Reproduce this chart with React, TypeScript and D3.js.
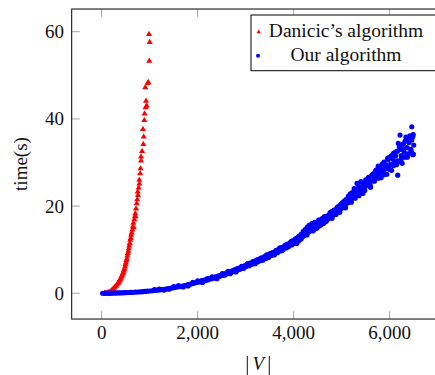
import React from "react";
import * as d3 from "d3";

// Danicic's algorithm: [|V|, time(s)]
const redV = [60, 90, 120, 150, 175, 200, 220, 240, 260, 280, 300, 320, 340, 355, 370, 385, 400, 410, 425, 440, 450, 460, 475, 485, 495, 505, 515, 525, 535, 545, 555, 565, 575, 585, 595, 605, 615, 625, 640, 650, 660, 665, 680, 690, 700, 705, 715, 730, 740, 750, 755, 770, 783, 785, 800, 810, 819, 820, 840, 860, 867, 875, 888, 895, 908, 915, 923, 938, 958, 971, 985, 992, 1000];
const redT = [0.02, 0.05, 0.1, 0.2, 0.35, 0.6, 0.8, 1.0, 1.2, 1.5, 1.7, 2.0, 2.3, 2.6, 2.9, 3.2, 3.5, 3.8, 4.1, 4.5, 4.8, 5.2, 5.6, 6.1, 6.6, 7.0, 7.5, 7.9, 8.6, 9.2, 9.7, 10.3, 10.9, 11.5, 12.2, 12.6, 13.4, 13.9, 14.6, 15.3, 16.1, 15.1, 16.9, 17.6, 18.3, 17.6, 19.4, 20.6, 21.5, 23.3, 22.5, 24.2, 26.0, 25.1, 27.5, 28.6, 31.3, 30.4, 32.6, 37.6, 34.2, 35.9, 39.7, 41.2, 47.2, 42.6, 44.1, 43.0, 48.2, 48.4, 59.4, 53.3, 57.6];

// Our algorithm: [|V|, time(s)]
const blueV = [
  20, 50, 80, 110, 140, 170, 200, 240, 280, 320, 360, 400, 440, 480, 520, 560, 600, 650, 700, 750, 800, 850, 900, 950, 1000,
  1050, 1100, 1150, 1200, 1250, 1300, 1350, 1400, 1450, 1500, 1550, 1600, 1650, 1700, 1750, 1800, 1850, 1900, 1950, 2000,
  2020, 2050, 2080, 2100, 2130, 2160, 2190, 2220, 2250, 2280, 2310, 2340, 2370, 2400, 2430, 2460, 2490, 2520, 2550, 2580,
  2610, 2640, 2670, 2700, 2730, 2760, 2790, 2820, 2850, 2880, 2910, 2940, 2970, 3000, 3030, 3060, 3090, 3120, 3150, 3180,
  3210, 3240, 3270, 3300, 3330, 3360, 3390, 3420, 3450, 3480, 3510, 3540, 3570, 3600, 3630, 3660, 3690, 3720, 3750, 3780,
  3810, 3840, 3870, 3900, 3930, 3960, 3990, 4020,
  4040, 4060, 4080, 4100, 4120, 4140, 4160, 4180, 4200, 4220, 4240, 4260, 4280, 4300, 4320, 4340, 4360, 4380, 4400, 4420,
  4440, 4460, 4480, 4500, 4520, 4540, 4560, 4580, 4600, 4620, 4640, 4660, 4680, 4700, 4720, 4740, 4760, 4780, 4800, 4820,
  4840, 4860, 4880, 4900, 4920, 4940, 4960, 4980, 5000, 5020, 5040, 5060, 5080, 5100, 5120, 5140, 5160, 5180, 5200, 5220,
  5240, 5260, 5280, 5300, 5320, 5340, 5360, 5380, 5400, 5420, 5440, 5460, 5480, 5500, 5520, 5540, 5560, 5580, 5600, 5620,
  5640, 5660, 5680, 5700, 5720, 5740, 5760, 5780, 5800, 5820, 5840, 5860, 5880, 5900, 5920, 5940, 5960, 5980, 6000, 6020,
  6040, 6060, 6080, 6100, 6120, 6140, 6160, 6167, 6180, 6200, 6215, 6220, 6240, 6260, 6280, 6300, 6320, 6340, 6360, 6367,
  6380, 6400, 6420, 6440, 6460, 6460, 6480, 6492, 6500, 6450, 6490,
  1100, 1200, 1300, 1400, 1500, 1600, 1700, 1800, 1900, 2000, 2100, 2200, 2300, 2400,
  2515, 2555, 2595, 2635, 2675, 2715, 2755, 2795, 2835, 2875, 2915, 2955, 2995, 3035, 3075, 3115, 3155, 3195, 3235, 3275,
  3315, 3355, 3395, 3435, 3475, 3515, 3555, 3595, 3635, 3675, 3715, 3755, 3795, 3835, 3875, 3915, 3955, 3995, 4035, 4075,
  4115, 4155, 4195, 4235, 4275, 4315, 4355, 4395, 4435, 4475,
  4520, 4560, 4600, 4640, 4680, 4720, 4760, 4800, 4840, 4880, 4920, 4960, 5000, 5040, 5080, 5120, 5160, 5200, 5240, 5280,
  5320, 5360, 5400, 5440, 5480, 5520, 5560, 5600, 5640, 5680, 5720, 5760, 5800, 5840, 5880, 5920, 5960, 6000, 6040, 6080,
  6120, 6160, 6200, 6240, 6280, 6320, 6360, 6400, 6440, 6480
];
const blueT = [
  0.01, 0.01, 0.02, 0.02, 0.03, 0.03, 0.04, 0.05, 0.06, 0.08, 0.09, 0.11, 0.12, 0.14, 0.16, 0.18, 0.2, 0.23, 0.26, 0.3, 0.34, 0.38, 0.43, 0.48, 0.53,
  0.58, 0.65, 0.71, 0.78, 0.85, 0.93, 1.02, 1.1, 1.2, 1.3, 1.4, 1.5, 1.6, 1.72, 1.85, 1.98, 2.1, 2.25, 2.4, 2.55,
  2.7, 2.6, 2.9, 2.8, 3.0, 2.9, 3.2, 3.1, 3.4, 3.3, 3.6, 3.5, 3.8, 3.7, 4.0, 3.9, 4.2, 4.1, 4.4, 4.3,
  4.7, 4.6, 4.9, 4.8, 5.2, 5.0, 5.5, 5.3, 5.7, 5.6, 6.0, 5.8, 6.3, 6.1, 6.6, 6.4, 6.9, 6.6, 7.2, 6.9,
  7.5, 7.2, 7.8, 7.5, 8.1, 7.7, 8.4, 8.0, 8.8, 8.3, 9.1, 8.7, 9.4, 9.0, 9.8, 9.3, 10.2, 9.7, 10.5, 10.0,
  10.9, 10.4, 11.3, 10.8, 11.7, 11.1, 12.1, 11.6,
  12.3, 11.4, 12.8, 12.0, 13.1, 12.4, 13.6, 12.9, 14.2, 13.2, 14.6, 13.8, 15.1, 14.0, 15.6, 15.3, 14.9, 16.0, 15.2, 14.6,
  16.3, 15.5, 14.9, 16.1, 15.4, 16.8, 15.8, 16.3, 17.2, 16.0, 17.0, 16.4, 17.6, 16.9, 17.9, 17.2, 18.3, 17.5, 18.8, 17.9,
  19.1, 18.2, 18.9, 19.6, 18.6, 19.9, 19.2, 20.4, 19.5, 20.8, 19.9, 21.2, 20.3, 21.6, 20.7, 22.3, 21.2, 22.8, 21.6, 23.1,
  22.0, 24.0, 22.5, 23.6, 25.2, 23.0, 24.5, 23.4, 25.6, 24.0, 22.9, 25.1, 24.4, 26.0, 24.8, 25.5, 26.6, 25.1, 24.3, 26.9,
  25.8, 27.4, 26.2, 28.0, 26.6, 27.6, 29.2, 27.0, 28.4, 26.5, 29.0, 27.8, 30.1, 28.5, 29.4, 27.3, 30.6, 29.0, 31.2, 29.6,
  28.2, 30.8, 32.1, 30.0, 31.5, 29.5, 32.6, 27.1, 34.4, 30.2, 36.3, 33.0, 31.6, 29.8, 34.2, 32.4, 31.2, 35.8, 33.4, 31.2,
  32.0, 34.6, 36.1, 33.0, 35.2, 38.2, 31.8, 31.9, 34.0, 32.5, 36.4,
  0.85, 0.95, 0.75, 0.95, 1.55, 1.75, 1.45, 1.7, 2.5, 2.85, 2.45, 3.35, 3.75, 3.35,
  4.5, 4.15, 4.6, 5.05, 4.5, 4.95, 5.3, 4.9, 5.75, 5.5, 6.2, 5.7, 6.3, 6.8, 6.3, 6.75, 7.25, 6.8, 7.65, 7.4,
  8.1, 7.6, 8.2, 8.75, 8.2, 8.75, 9.3, 8.8, 9.75, 9.6, 10.4, 9.8, 10.55, 11.1, 10.6, 11.25, 11.9, 11.4, 12.5, 12.1,
  13.1, 12.5, 13.4, 14.0, 13.4, 14.1, 14.9, 14.3, 15.5, 15.2,
  16.8, 15.6, 16.9, 17.6, 16.6, 17.4, 18.5, 17.2, 18.9, 18.1, 19.8, 18.6, 19.9, 21.0, 19.6, 20.8, 22.2, 20.9, 22.9, 21.8,
  23.9, 22.4, 23.7, 25.1, 23.6, 24.9, 26.4, 24.6, 27.2, 25.7, 28.3, 26.4, 27.9, 29.6, 27.2, 29.1, 31.0, 28.4, 31.6, 29.3,
  32.4, 30.4, 33.6, 30.8, 33.1, 34.9, 31.5, 35.5, 32.2, 35.9
];

const xTicks = [0, 2000, 4000, 6000];
const yTicks = [0, 20, 40, 60];
const xTickLabels = ["0", "2,000", "4,000", "6,000"];
const yTickLabels = ["0", "20", "40", "60"];
const legendLabels = ["Danicic\u2019s algorithm", "Our algorithm"];

const FONT = "'Liberation Serif', 'DejaVu Serif', serif";

export default function App() {
  const x = d3.scaleLinear().domain([0, 6000]).range([101.7, 389.7]);
  const y = d3.scaleLinear().domain([0, 60]).range([293.3, 31.7]);
  const left = x(-625);
  const right = x(7150);
  const top = y(65.2);
  const bottom = y(-5.9);
  const tri = d3.symbol().type(d3.symbolTriangle).size(16)() as string;
  const triSmall = d3.symbol().type(d3.symbolTriangle).size(8)() as string;
  const red = "#ff0000";
  const blue = "#0000ff";
  const tickLen = 8;
  const cx = (left + right) / 2;

  return (
    <svg
      width={435}
      height={375}
      style={{ position: "absolute", left: 0, top: 0, background: "#fff" }}
      fontFamily={FONT}
    >
      <rect x={0} y={0} width={435} height={375} fill="#fff" />
      {/* ticks */}
      {xTicks.map((t) => (
        <g key={"xt" + t} stroke="#999" strokeWidth={0.9}>
          <line x1={x(t)} x2={x(t)} y1={bottom} y2={bottom - tickLen} />
          <line x1={x(t)} x2={x(t)} y1={top} y2={top + tickLen} />
        </g>
      ))}
      {yTicks.map((t) => (
        <g key={"yt" + t} stroke="#999" strokeWidth={0.9}>
          <line x1={left} x2={left + tickLen} y1={y(t)} y2={y(t)} />
          <line x1={right} x2={right - tickLen} y1={y(t)} y2={y(t)} />
        </g>
      ))}
      {/* data: red */}
      {redV.map((v, i) => (
        <path key={"r" + i} d={tri} transform={`translate(${x(v)},${y(redT[i])})`} fill={red} />
      ))}
      {/* data: blue */}
      {blueV.map((v, i) => (
        <circle key={"b" + i} cx={x(v)} cy={y(blueT[i])} r={2.6} fill={blue} />
      ))}
      {/* axis box */}
      <rect x={left} y={top} width={right - left} height={bottom - top} fill="none" stroke="#000" strokeWidth={1} />
      {/* tick labels */}
      {xTicks.map((t, i) => (
        <text key={"xl" + t} x={x(t)} y={339} fontSize={19} textAnchor="middle" fill="#111">
          {xTickLabels[i]}
        </text>
      ))}
      {yTicks.map((t, i) => (
        <text key={"yl" + t} x={64} y={y(t) + 6.5} fontSize={19} textAnchor="end" fill="#111">
          {yTickLabels[i]}
        </text>
      ))}
      {/* axis labels */}
      <line x1={cx - 11} x2={cx - 11} y1={356} y2={375} stroke="#111" strokeWidth={1} />
      <line x1={cx + 11} x2={cx + 11} y1={356} y2={375} stroke="#111" strokeWidth={1} />
      <text x={cx} y={370} fontSize={19} textAnchor="middle" fill="#111" fontStyle="italic">
        V
      </text>
      <text transform={`translate(27,164) rotate(-90)`} fontSize={19} textAnchor="middle" fill="#111">
        time(s)
      </text>
      {/* legend */}
      <rect x={251} y={15} width={190} height={55.7} fill="#fff" stroke="#000" strokeWidth={1} />
      <path d={triSmall} transform={`translate(258.7,32)`} fill={red} />
      <circle cx={258} cy={55.7} r={2} fill={blue} />
      <text x={346} y={37} fontSize={19.5} textAnchor="middle" fill="#111">
        {legendLabels[0]}
      </text>
      <text x={346} y={61} fontSize={19.5} textAnchor="middle" fill="#111">
        {legendLabels[1]}
      </text>
    </svg>
  );
}
